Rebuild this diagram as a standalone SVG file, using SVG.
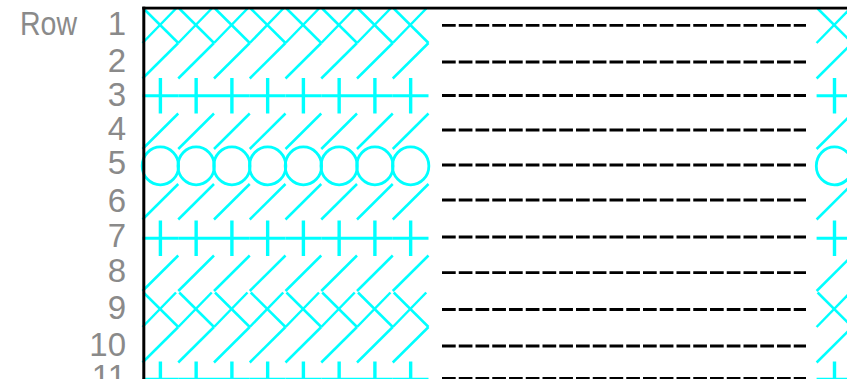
<svg xmlns="http://www.w3.org/2000/svg" width="847" height="379" viewBox="0 0 847 379">
<style>
.st{stroke:#00ffff;fill:none}
.d{stroke-width:2.5}
.h{stroke-width:3}
.v{stroke-width:3.4}
.o{stroke-width:2.8}
.lbl{font-family:"Liberation Sans",Arial,sans-serif;font-size:33px;fill:#8a8a8a;text-anchor:end}
.row{font-family:"Liberation Sans",Arial,sans-serif;font-size:33px;fill:#8a8a8a}
.dash{stroke:#000;stroke-width:2.8;stroke-dasharray:13.7 3.05;fill:none}
.frame{fill:#000}
</style>
<defs>
<g id="sl" class="st"><line class="d" x1="0" y1="35.5" x2="35.75" y2="0"/></g>
<g id="xx" class="st"><line class="d" x1="1" y1="1" x2="35.75" y2="35.5"/><line class="d" x1="33.5" y1="1" x2="0" y2="35.5"/></g>
<g id="pl" class="st"><line class="h" x1="0" y1="17.75" x2="35.75" y2="17.75"/><line class="v" x1="17.9" y1="0" x2="17.9" y2="35.5"/></g>
<g id="yo" class="st"><ellipse class="o" cx="17.9" cy="17.9" rx="18.2" ry="19"/></g>
<g id="s_sl"><use href="#sl" x="0"/><use href="#sl" x="35.75"/><use href="#sl" x="71.5"/><use href="#sl" x="107.25"/><use href="#sl" x="143"/><use href="#sl" x="178.75"/><use href="#sl" x="214.5"/><use href="#sl" x="250.25"/></g>
<g id="s_xx"><use href="#xx" x="0"/><use href="#xx" x="35.75"/><use href="#xx" x="71.5"/><use href="#xx" x="107.25"/><use href="#xx" x="143"/><use href="#xx" x="178.75"/><use href="#xx" x="214.5"/><use href="#xx" x="250.25"/></g>
<g id="s_pl"><use href="#pl" x="0"/><use href="#pl" x="35.75"/><use href="#pl" x="71.5"/><use href="#pl" x="107.25"/><use href="#pl" x="143"/><use href="#pl" x="178.75"/><use href="#pl" x="214.5"/><use href="#pl" x="250.25"/></g>
<g id="s_yo"><use href="#yo" x="0"/><use href="#yo" x="35.75"/><use href="#yo" x="71.5"/><use href="#yo" x="107.25"/><use href="#yo" x="143"/><use href="#yo" x="178.75"/><use href="#yo" x="214.5"/><use href="#yo" x="250.25"/></g>
</defs>
<rect width="847" height="379" fill="#fff"/>
<g id="labels">
<text class="row" x="20" y="35" textLength="57" lengthAdjust="spacingAndGlyphs">Row</text>
<text class="lbl" x="126" y="35">1</text>
<text class="lbl" x="126" y="72">2</text>
<text class="lbl" x="126" y="106">3</text>
<text class="lbl" x="126" y="140">4</text>
<text class="lbl" x="126" y="174">5</text>
<text class="lbl" x="126" y="212">6</text>
<text class="lbl" x="126" y="247">7</text>
<text class="lbl" x="126" y="282">8</text>
<text class="lbl" x="126" y="319">9</text>
<text class="lbl" x="126" y="356">10</text>
<text class="lbl" x="126" y="388">11</text>
</g>
<g id="stitches-left" transform="translate(142.5,0)">
<use id="r1" href="#s_xx" y="7.5"/>
<use id="r2" href="#s_sl" y="43"/>
<use id="r3" href="#s_pl" y="78"/>
<use id="r4" href="#s_sl" y="113.5"/>
<use id="r5" href="#s_yo" y="148"/>
<use id="r6" href="#s_sl" y="184"/>
<use id="r7" href="#s_pl" y="220.5"/>
<use id="r8" href="#s_sl" y="255.5"/>
<use id="r9" href="#s_xx" y="291.5"/>
<use id="r10" href="#s_sl" y="327"/>
<use id="r11" href="#s_pl" y="361.5"/>
</g>
<g id="stitches-right" transform="translate(816.6,0)">
<use href="#xx" y="7.5"/>
<use href="#sl" y="43"/>
<use href="#pl" y="78"/>
<use href="#sl" y="113.5"/>
<use href="#yo" y="148"/>
<use href="#sl" y="184"/>
<use href="#pl" y="220.5"/>
<use href="#sl" y="255.5"/>
<use href="#xx" y="291.5"/>
<use href="#sl" y="327"/>
<use href="#pl" y="361.5"/>
</g>
<g id="dashes" class="dash">
<line x1="442" y1="25.3" x2="806" y2="25.3"/>
<line x1="442" y1="62" x2="806" y2="62"/>
<line x1="442" y1="95.5" x2="806" y2="95.5"/>
<line x1="442" y1="130" x2="806" y2="130"/>
<line x1="442" y1="165" x2="806" y2="165"/>
<line x1="442" y1="200" x2="806" y2="200"/>
<line x1="442" y1="237" x2="806" y2="237"/>
<line x1="442" y1="272.7" x2="806" y2="272.7"/>
<line x1="442" y1="309.5" x2="806" y2="309.5"/>
<line x1="442" y1="346" x2="806" y2="346"/>
<line x1="442" y1="378.3" x2="806" y2="378.3"/>
</g>
<g id="frame" class="frame">
<rect x="142.3" y="6.7" width="704.7" height="2.8"/>
<rect x="142.3" y="6.7" width="3" height="372.3"/>
</g>
</svg>
